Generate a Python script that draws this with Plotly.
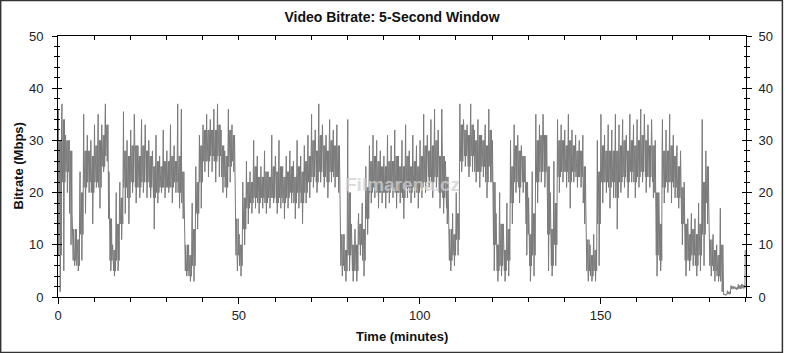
import plotly.graph_objects as go

# minute index (start of each 1-minute bin)
minutes = list(range(190))

# per-minute spike maximum (Mbps)
upper_mbps = [
    36, 37, 31, 30, 15, 13, 24, 35, 31, 30,
    33, 35, 33, 37, 24, 10, 20, 22, 35.5, 30,
    32, 35, 29, 34, 33, 30, 28, 31, 27, 32,
    28, 33, 29, 37, 36, 13, 10, 18, 25, 31,
    33, 35, 34, 36, 37, 32, 28, 36, 33, 22,
    12, 22, 26, 24, 30, 27, 25, 28, 24, 31,
    27, 30, 25, 27, 28, 26, 30, 27, 29, 31,
    35, 32, 37, 33, 31, 34, 32, 33, 18, 12,
    34, 14, 13, 16, 18, 25, 29, 31, 30, 28,
    27, 31, 29, 32, 27, 30, 33, 28, 31, 29,
    30, 35, 31, 34, 36, 32, 36, 26, 17, 16,
    20, 37, 34, 33, 37, 32, 34, 31, 33, 36,
    30, 16, 20, 14, 18, 30, 33, 31, 29, 27,
    19, 24, 35, 33, 35, 31, 20, 26, 34, 33,
    32, 35, 32, 31, 30, 31, 16, 10, 12, 30,
    35, 31, 33, 32, 35, 33, 34, 31, 35, 33,
    34, 36, 35, 33, 34, 30, 20, 34, 32, 35,
    31, 29, 28, 22, 15, 16, 15, 18, 34, 28,
    14, 12, 10, 17, 0.6, 1.2, 2.2, 2.0, 2.4, 2.5,
]

# per-minute spike minimum (Mbps)
lower_mbps = [
    1, 5, 20, 10, 6, 5, 7, 16, 20, 14,
    21, 17, 24, 26, 5, 4, 5, 11, 16, 14,
    20, 18, 19, 20, 19, 19, 13, 18, 20, 19,
    20, 18, 20, 17, 15, 4, 3, 3, 13, 17,
    24, 23, 24, 22, 23, 20, 19, 22, 24, 5,
    4, 10, 14, 16, 17, 16, 17, 16, 17, 18,
    16, 17, 15, 17, 18, 15, 17, 14, 18, 19,
    21, 20, 22, 21, 19, 22, 21, 20, 4, 3,
    5, 3, 3, 8, 4, 12, 18, 19, 17, 18,
    17, 18, 19, 17, 18, 15, 19, 18, 19, 17,
    19, 20, 21, 19, 21, 17, 16, 14, 5, 6,
    8, 24, 25, 23, 24, 22, 21, 23, 19, 22,
    5, 3, 4, 3, 4, 14, 20, 18, 20, 8,
    3, 4, 18, 22, 21, 5, 4, 6, 20, 22,
    21, 17, 22, 21, 21, 14, 3, 3, 3, 6,
    18, 20, 17, 19, 13, 20, 21, 19, 22, 19,
    21, 22, 20, 21, 19, 4, 5, 18, 20, 18,
    19, 17, 10, 4, 5, 6, 4, 5, 6, 14,
    4, 3, 3, 1, 0.3, 0.5, 1.5, 1.4, 1.5, 1.6,
]

# per-minute dense core band, top (Mbps)
core_upper_mbps = [
    30, 34, 30, 28, 13, 11, 20, 28, 28, 27,
    29, 30, 31, 33, 15, 9, 14, 19, 28, 27,
    29, 29, 27, 29, 28, 27, 25, 26, 25, 26,
    26, 27, 26, 27, 24, 10, 8, 13, 22, 29,
    32, 32, 32, 32, 33, 29, 27, 32, 31, 15,
    10, 19, 22, 22, 25, 23, 23, 24, 23, 25,
    24, 25, 23, 24, 25, 23, 25, 24, 26, 27,
    30, 28, 31, 29, 28, 30, 29, 29, 12, 9,
    20, 10, 10, 14, 13, 21, 26, 27, 26, 25,
    25, 26, 26, 27, 25, 25, 27, 25, 26, 25,
    27, 29, 28, 29, 30, 27, 27, 23, 13, 12,
    16, 33, 32, 31, 33, 30, 31, 30, 29, 32,
    22, 10, 14, 9, 13, 25, 29, 28, 27, 22,
    12, 16, 30, 31, 31, 25, 13, 18, 30, 30,
    29, 30, 29, 28, 28, 25, 11, 8, 9, 24,
    29, 28, 28, 28, 28, 29, 30, 28, 30, 29,
    30, 31, 30, 29, 29, 20, 14, 28, 28, 29,
    27, 25, 21, 14, 12, 13, 12, 14, 22, 25,
    11, 9, 8, 10, 0.5, 1.0, 2.0, 1.8, 2.2, 2.3,
]

# per-minute dense core band, bottom (Mbps)
core_lower_mbps = [
    8, 22, 24, 16, 7, 6, 12, 21, 22, 20,
    22, 21, 25, 27, 7, 5, 7, 14, 21, 19,
    22, 21, 21, 22, 22, 21, 19, 20, 21, 21,
    21, 21, 22, 20, 18, 5, 4, 6, 16, 22,
    26, 26, 27, 26, 27, 23, 21, 25, 26, 8,
    6, 13, 17, 18, 19, 18, 19, 18, 19, 19,
    18, 19, 18, 19, 20, 18, 20, 18, 20, 22,
    23, 22, 24, 23, 22, 24, 23, 23, 6, 5,
    8, 5, 5, 10, 7, 15, 20, 21, 20, 20,
    20, 20, 21, 20, 20, 19, 21, 20, 21, 20,
    21, 22, 23, 22, 23, 20, 19, 17, 7, 8,
    11, 26, 27, 25, 27, 24, 24, 25, 22, 25,
    10, 5, 6, 5, 7, 18, 22, 21, 22, 14,
    6, 8, 22, 24, 24, 12, 6, 10, 23, 24,
    24, 22, 24, 23, 23, 18, 5, 4, 5, 14,
    22, 22, 21, 22, 19, 22, 23, 22, 24, 22,
    23, 24, 23, 23, 22, 8, 7, 21, 22, 22,
    21, 19, 14, 7, 7, 8, 6, 8, 12, 18,
    6, 5, 4, 3, 0.4, 0.6, 1.6, 1.5, 1.6, 1.8,
]

end_minute = 190.0
end_value = 9.0

xs, ys = [], []
for m, lo, hi, clo, chi in zip(minutes, lower_mbps, upper_mbps,
                               core_lower_mbps, core_upper_mbps):
    seq = [chi, hi, clo, chi, clo, chi, lo, clo, chi, clo]
    n = len(seq)
    for k, v in enumerate(seq):
        xs.append(m + k / n)
        ys.append(v)
xs.append(end_minute)
ys.append(end_value)

FONT = "Liberation Sans"
W, H = 785, 353
ML, MR, MT, MB = 58, 37, 36, 56
PW, PH = W - ML - MR, H - MT - MB

fig = go.Figure()
fig.add_trace(go.Scatter(x=xs, y=ys, mode="lines",
                         line=dict(color="#7a7a7a", width=1),
                         showlegend=False, hoverinfo="skip"))
fig.add_trace(go.Scatter(x=[None], y=[None], xaxis="x", yaxis="y2",
                         showlegend=False, hoverinfo="skip"))
fig.add_trace(go.Scatter(x=[None], y=[None], xaxis="x2", yaxis="y3",
                         showlegend=False, hoverinfo="skip"))

tickfont = dict(family=FONT, size=13, color="#222")

fig.update_layout(
    width=W, height=H,
    margin=dict(l=ML, r=MR, t=MT, b=MB),
    paper_bgcolor="white", plot_bgcolor="white",
    title=dict(text="Video Bitrate: 5-Second Window",
               x=(ML + PW / 2) / W - 0.014, xanchor="center",
               y=1 - 17 / H, yanchor="middle", yref="container",
               font=dict(family=FONT, size=14, color="#111", weight="bold")),
    xaxis=dict(range=[0, 190.2], dtick=50, tick0=0,
               ticks="outside", ticklen=6, tickcolor="black",
               minor=dict(dtick=10, ticks="outside", ticklen=4, tickcolor="black"),
               showline=True, linecolor="black", linewidth=1,
               showgrid=False, zeroline=False, tickfont=tickfont,
               ticklabelstandoff=0),
    xaxis2=dict(range=[0, 190.2], overlaying="x", side="top", dtick=10, tick0=0,
                ticks="inside", ticklen=4, tickcolor="black",
                showticklabels=False, showline=True, linecolor="black",
                showgrid=False, zeroline=False, anchor="y3"),
    yaxis=dict(range=[0, 50], dtick=10, tick0=0,
               ticks="outside", ticklen=5, tickcolor="black",
               minor=dict(dtick=2, ticks="outside", ticklen=3, tickcolor="black"),
               showline=True, linecolor="black", linewidth=1,
               showgrid=False, zeroline=False, tickfont=tickfont,
               ticklabelstandoff=6),
    yaxis2=dict(range=[0, 50], dtick=10, tick0=0, overlaying="y", side="right",
                ticks="outside", ticklen=5, tickcolor="black",
                minor=dict(dtick=2, ticks="outside", ticklen=3, tickcolor="black"),
                showline=True, linecolor="black", linewidth=1,
                showgrid=False, zeroline=False, tickfont=tickfont,
                ticklabelstandoff=4),
    yaxis3=dict(range=[0, 50], dtick=10, tick0=0, overlaying="y", side="left",
                ticks="inside", ticklen=4, tickcolor="black", mirror="ticks",
                minor=dict(dtick=2, ticks="inside", ticklen=2, tickcolor="black"),
                showticklabels=False, showline=False,
                showgrid=False, zeroline=False),
)

fig.add_annotation(text="Time (minutes)", xref="paper", yref="paper",
                   x=0.5, y=0, yanchor="middle", yshift=-(336 - 297),
                   showarrow=False,
                   font=dict(family=FONT, size=13, color="#111", weight="bold"))
fig.add_annotation(text="Bitrate (Mbps)", xref="paper", yref="paper",
                   x=0, y=0.5, xanchor="center", xshift=-(ML - 18),
                   textangle=-90, showarrow=False,
                   font=dict(family=FONT, size=13, color="#111", weight="bold"))
fig.add_annotation(text="Filmarena.cz", xref="paper", yref="paper",
                   x=(404 - ML) / PW, y=(297 - 185) / PH, showarrow=False,
                   opacity=0.75,
                   font=dict(family=FONT, size=19, color="#cfcfcf", weight="bold"))

fig.add_shape(type="rect", xref="paper", yref="paper",
              x0=(0.5 - ML) / PW, x1=(W - 0.5 - ML) / PW,
              y0=(297 - (H - 0.5)) / PH, y1=(297 - 0.5) / PH,
              line=dict(color="#333", width=1.5), layer="above")

fig.write_html("out.html")
